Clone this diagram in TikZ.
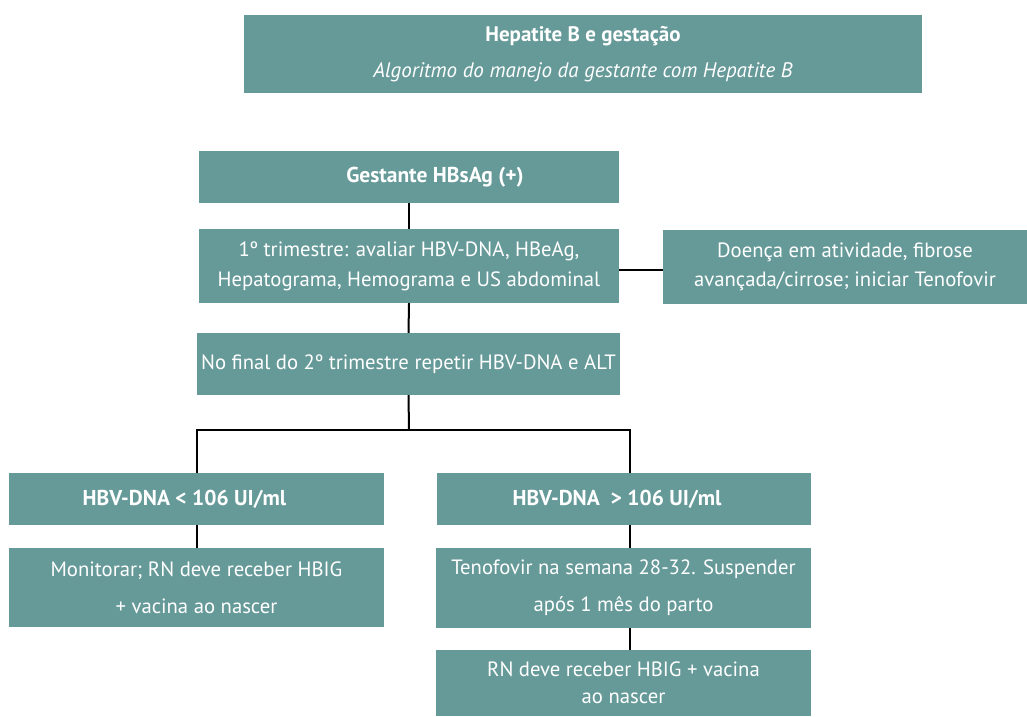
\documentclass[tikz,border=0pt]{standalone}
\usepackage{fontspec}
\setmainfont{PT Sans}
\definecolor{teal1}{HTML}{669A99}
\begin{document}
\begin{tikzpicture}[x=1pt,y=-1pt,
  box/.style={rectangle, fill=teal1, text=white, inner sep=0pt, align=center, font=\fontsize{20.7}{30}\selectfont},
  conn/.style={draw=black, line width=2pt}]
\useasboundingbox (0,0) rectangle (1027,716);
\node[box, minimum width=678, minimum height=78, font=\fontsize{21}{36}\selectfont] (title) at (583,54) {\textbf{Hepatite B e gestação}\\\textit{Algoritmo do manejo da gestante com Hepatite B}};
\node[box, minimum width=420, minimum height=52, font=\fontsize{21.5}{30}\selectfont] (gest) at (409,177) {\hspace*{52pt}\textbf{Gestante HBsAg (+)}};
\node[box, minimum width=420, minimum height=74] (tri) at (409,266) {1º trimestre: avaliar HBV-DNA, HBeAg,\\Hepatograma, Hemograma e US abdominal};
\node[box, minimum width=364, minimum height=74, font=\fontsize{20.7}{29}\selectfont] (doen) at (845,267) {Doença em atividade, fibrose\\avançada/cirrose; iniciar Tenofovir};
\node[box, minimum width=423, minimum height=62] (final) at (408.5,364) {No final do 2º trimestre repetir HBV-DNA e ALT};
\node[box, minimum width=375, minimum height=52, font=\fontsize{21.5}{30}\selectfont] (hbvl) at (196.5,499) {\textbf{HBV-DNA < 106 UI/ml}\hspace*{24pt}};
\node[box, minimum width=375, minimum height=79, font=\fontsize{20.7}{37}\selectfont] (mon) at (196.5,587.5) {Monitorar; RN deve receber HBIG\\+ vacina ao nascer};
\node[box, minimum width=374, minimum height=52, font=\fontsize{21.5}{30}\selectfont] (hbvr) at (624,499) {\textbf{HBV-DNA\ \ > 106 UI/ml}\hspace*{14pt}};
\node[box, minimum width=375, minimum height=80, font=\fontsize{20.7}{37}\selectfont] (ten) at (623.5,588) {Tenofovir na semana 28-32. Suspender\\após 1 mês do parto};
\node[box, minimum width=375, minimum height=66, font=\fontsize{20.7}{27}\selectfont] (rn) at (623.5,683) {RN deve receber HBIG + vacina\\ao nascer};
\coordinate (j) at (409,430);
\coordinate (jl) at (197,430);
\coordinate (jr) at (630,430);
\draw[conn] (gest.south) -- (tri.north);
\draw[conn] (tri.south) -- (final.north);
\draw[conn] (tri.east |- 0,270) -- (doen.west |- 0,270);
\draw[conn] (final.south) -- (j);
\draw[conn] (jl |- hbvl.north) -- (jl) -- (jr) -- (jr |- hbvr.north);
\draw[conn] (jl |- hbvl.south) -- (jl |- mon.north);
\draw[conn] (jr |- hbvr.south) -- (jr |- ten.north);
\draw[conn] (jr |- ten.south) -- (jr |- rn.north);
\end{tikzpicture}
\end{document}
